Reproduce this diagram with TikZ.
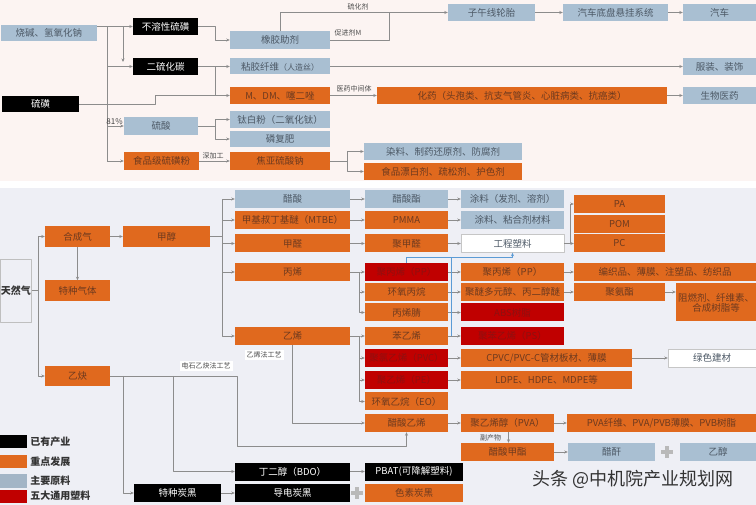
\documentclass[tikz,border=0pt]{standalone}
\usepackage{fontspec}
\setmainfont{Noto Sans CJK SC}
\usetikzlibrary{arrows.meta}
\definecolor{orgc}{HTML}{E0691E}
\definecolor{bluec}{HTML}{A9BFD2}
\definecolor{redc}{HTML}{C00000}
\definecolor{otxt}{HTML}{6E3A1E}
\definecolor{btxt}{HTML}{4D5966}
\definecolor{rtxt}{HTML}{8E1010}
\definecolor{linec}{HTML}{8C8C8C}
\definecolor{bluel}{HTML}{5B9BD5}
\definecolor{topbg}{HTML}{FCF4F2}
\definecolor{botbg}{HTML}{EEEFF5}
\begin{document}
\begin{tikzpicture}[x=1pt,y=-1pt,>={Stealth[length=3.5pt,width=3pt]},line join=round,
	box/.style={minimum height=17,inner sep=0pt,font=\fontsize{9.5}{10}\selectfont},
	obox/.style={box,fill=orgc,text=otxt},
	bbox/.style={box,fill=bluec,text=btxt},
	kbox/.style={box,fill=black,text=white},
	rbox/.style={box,fill=redc,text=rtxt},
	wbox/.style={box,fill=white,draw=gray!45,text=btxt},
	link/.style={draw=linec,line width=0.7pt},
	arr/.style={link,->},
	blink/.style={draw=bluel,line width=0.7pt},
	lbl/.style={font=\fontsize{7}{8}\selectfont,text=black!70,inner sep=1pt},
	wlbl/.style={lbl,fill=white,inner sep=2pt},
	legend/.style={anchor=west,font=\bfseries\fontsize{10}{11}\selectfont,text=black!80,inner sep=0pt},
	plus/.style={draw=gray!55,line width=3.5pt}]
	\useasboundingbox (0,0) rectangle (756,505);
	\fill[topbg] (0,0) rectangle (756,181);
	\fill[white] (0,181) rectangle (756,188);
	\fill[botbg] (0,188) rectangle (756,505);
	%% ---------- 硫磺 ----------
	\node[bbox,minimum width=96,minimum height=16] (soda) at (49,33) {烧碱、氢氧化钠};
	\node[kbox,minimum width=65] (insol) at (165.5,26.5) {不溶性硫磺};
	\node[kbox,minimum width=65] (cs2) at (165.5,66.5) {二硫化碳};
	\node[kbox,minimum width=77,minimum height=16] (sulfur) at (40.5,104) {硫磺};
	\node[bbox,minimum width=74,minimum height=18] (h2so4) at (161,126) {硫酸};
	\node[obox,minimum width=75,minimum height=18] (food) at (161.5,161) {食品级硫磺粉};
	\node[bbox,minimum width=100,minimum height=18] (rubber) at (280,40) {橡胶助剂};
	\node[bbox,minimum width=100,minimum height=16] (viscose) at (280,66.5) {粘胶纤维{\fontsize{8}{9}\selectfont（人造丝）}};
	\node[obox,minimum width=100] (mdm) at (280,95.5) {M、DM、噻二唑};
	\node[bbox,minimum width=100] (ti) at (280,119.5) {钛白粉（二氧化钛）};
	\node[bbox,minimum width=100,minimum height=16] (phos) at (280,139) {磷复肥};
	\node[obox,minimum width=100,minimum height=18] (smb) at (280,161) {焦亚硫酸钠};
	\node[bbox,minimum width=87] (tire) at (491.5,12.5) {子午线轮胎};
	\node[bbox,minimum width=105] (chassis) at (615.5,12.5) {汽车底盘悬挂系统};
	\node[bbox,minimum width=73] (car) at (719.5,12.5) {汽车};
	\node[bbox,minimum width=73] (cloth) at (719.5,66.5) {服装、装饰};
	\node[obox,minimum width=290] (drug) at (522,95.5) {化药（头孢类、抗支气管炎、心脏病类、抗癌类）};
	\node[bbox,minimum width=73] (bio) at (719.5,95.5) {生物医药};
	\node[bbox,minimum width=158] (dye) at (443,151.5) {染料、制药还原剂、防腐剂};
	\node[obox,minimum width=158] (bleach) at (443,171.5) {食品漂白剂、疏松剂、护色剂};
	\node[lbl] (vulc) at (358,6.5) {硫化剂};
	\node[lbl] (accm) at (348,33) {促进剂M};
	\node[lbl] (pharm) at (354,89) {医药中间体};
	\node[lbl] (deep) at (213,156) {深加工};
	\coordinate (sj) at (107,104);
	\draw[arr] (soda.east|-insol.west) -- (insol.west);
	\draw[arr] (123,26.5) -- (123,62);
	\draw[link] (sulfur.east) -- (sj);
	\draw[link] (sj|-insol.west) -- (sj|-food.west);
	\draw[arr] (sj|-cs2.west) -- (cs2.west);
	\draw[arr] (sj|-h2so4.west) -- (h2so4.west) node[pos=0.45,above,inner sep=1.5pt,font=\fontsize{8}{9}\selectfont,text=black!75]{81\%};
	\draw[arr] (sj|-food.west) -- (food.west);
	\draw[arr] (sulfur.east) -- ++(76,0) |- (mdm.west);
	\draw[arr] (insol.east) -- ++(17,0) |- (rubber.west);
	\draw[arr] (cs2.east) -- (viscose.west);
	\draw[link] ([xshift=17]cs2.east) -- ([xshift=17]cs2.east|-mdm.west);
	\draw[arr] (rubber.north) |- (tire.west);
	\draw[link] (rubber.east) -- ++(59,0) -- ++(0,-27.5);
	\draw[arr] (tire) -- (chassis);
	\draw[arr] (chassis) -- (car);
	\draw[arr] (viscose.east) -- (cloth.west);
	\draw[arr] (mdm) -- (drug);
	\draw[arr] (drug) -- (bio);
	\draw[arr] (h2so4.east) -- ++(17,0) |- (ti.west);
	\draw[arr] (h2so4.east) -- ++(17,0) |- (phos.west);
	\draw[arr] (food) -- (smb);
	\draw[arr] (smb.east) -- ++(17,0) |- (dye.west);
	\draw[arr] (smb.east) -- ++(17,0) |- (bleach.west);
	%% ---------- 天然气 ----------
	\node[draw=gray!50,minimum width=31,minimum height=63,inner sep=0pt,font=\bfseries\fontsize{10}{11}\selectfont,text=black!80] (ng) at (16,290.5) {天然气};
	\node[obox,minimum width=65,minimum height=21] (syngas) at (77.5,236.5) {合成气};
	\node[obox,minimum width=87,minimum height=21] (methanol) at (166.5,236.5) {甲醇};
	\node[obox,minimum width=65,minimum height=21] (sgas) at (77.5,291) {特种气体};
	\node[obox,minimum width=65,minimum height=20] (acet) at (77.5,376) {乙炔};
	\foreach \nm/\yy/\st/\tx in {acetic/199/bbox/醋酸, mtbe/220/obox/甲基叔丁基醚（MTBE）, hcho/243.5/obox/甲醛, propylene/272/obox/丙烯, ethylene/336/obox/乙烯}
		\node[\st,minimum width=115,minimum height=18] (\nm) at (292.5,\yy) {\tx};
	\foreach \nm/\yy/\st/\tx in {ester/199/bbox/醋酸酯, pmma/220/obox/PMMA, pom0/243.5/obox/聚甲醛, ppr/272/rbox/聚丙烯（PP）, po/292/obox/环氧丙烷, an/312.5/obox/丙烯腈, sty/336/obox/苯乙烯, pvc/358/rbox/聚氯乙烯（PVC）, pe/380/rbox/聚乙烯（PE）, eo/401.5/obox/环氧乙烷（EO）, vac/423/obox/醋酸乙烯}
		\node[\st,minimum width=83,minimum height=18] (\nm) at (406.5,\yy) {\tx};
	\foreach \nm/\yy/\st/\tx in {coat1/199/bbox/涂料（发剂、溶剂）, coat2/220/bbox/涂料、粘合剂材料, eplastic/243.5/wbox/工程塑料, ppo/272/obox/聚丙烯（PP）, ppg/292/obox/聚醚多元醇、丙二醇醚, abs/312.5/rbox/ABS树脂, ps/336/rbox/聚苯乙烯（PS）}
		\node[\st,minimum width=103,minimum height=18] (\nm) at (512.5,\yy) {\tx};
	\foreach \nm/\yy/\tx in {pa/204/PA, pomb/224/POM, pc/243.5/PC, pu/292/聚氨酯}
		\node[obox,minimum width=91,minimum height=18] (\nm) at (619.5,\yy) {\tx};
	\node[obox,minimum width=182,minimum height=18] (weave) at (665,272) {编织品、薄膜、注塑品、纺织品};
	\node[obox,minimum width=80,minimum height=38,align=center] (flame) at (716,302.5) {阻燃剂、纤维素、\\合成树脂等};
	\node[obox,minimum width=171,minimum height=18] (cpvc) at (546.5,358) {CPVC/PVC-C管材板材、薄膜};
	\node[obox,minimum width=171,minimum height=18] (ldpe) at (546.5,380) {LDPE、HDPE、MDPE等};
	\node[wbox,minimum width=88,minimum height=18] (green) at (712,358) {绿色建材};
	\node[obox,minimum width=93,minimum height=18] (pva) at (507.5,423) {聚乙烯醇（PVA）};
	\node[obox,minimum width=189,minimum height=18] (pvaf) at (661.5,423) {PVA纤维、PVA/PVB薄膜、PVB树脂};
	\node[obox,minimum width=93,minimum height=18] (vma) at (507.5,452) {醋酸甲酯};
	\node[bbox,minimum width=87,minimum height=18] (anh) at (611.5,452) {醋酐};
	\node[bbox,minimum width=76,minimum height=18] (etoh) at (718,452) {乙醇};
	\node[kbox,minimum width=115,minimum height=18] (bdo) at (292.5,471.5) {丁二醇（BDO）};
	\node[kbox,minimum width=98,minimum height=18] (pbat) at (414,471.5) {PBAT(可降解塑料)};
	\node[kbox,minimum width=87,minimum height=18] (cb) at (177.5,493) {特种炭黑};
	\node[kbox,minimum width=115,minimum height=18] (ccb) at (292.5,493) {导电炭黑};
	\node[obox,minimum width=98,minimum height=18] (pcb) at (414,493) {色素炭黑};
	\draw[plus] (661,452) -- (673,452) (667,446) -- (667,458);
	\draw[plus] (351,493) -- (363,493) (357,487) -- (357,499);
	% 连线
	\coordinate (nj) at (38,290.5);
	\coordinate (mj) at (222,236.5);
	\draw[link] (ng.east) -- (nj);
	\draw[arr] (nj) |- (syngas.west);
	\draw[arr] (nj) |- (acet.west);
	\draw[arr] (syngas) -- (methanol);
	\draw[arr] (syngas) -- (sgas);
	\draw[link] (methanol.east) -- (mj);
	\foreach \nm in {acetic,mtbe,hcho,propylene,ethylene}
		\draw[arr] (mj) |- (\nm.west);
	\foreach \nm in {ppr,po,an}
		\draw[arr] (propylene.east) -- ++(9,0) |- (\nm.west);
	\foreach \nm in {sty,pvc,pe,eo}
		\draw[arr] (ethylene.east) -- ++(9,0) |- (\nm.west);
	\foreach \a/\b in {acetic/ester, ester/coat1, mtbe/pmma, pmma/coat2, hcho/pom0, pom0/eplastic, ppr/ppo, ppo/weave, po/ppg, ppg/pu, an/abs, sty/ps, pvc/cpvc, cpvc/green, pe/ldpe, vac/pva, pva/pvaf, vma/anh, bdo/pbat, cb/ccb}
		\draw[arr] (\a) -- (\b);
	\draw[arr] (pu.east) -- (pu.east-|flame.west);
	\draw[arr] (eplastic.east) -- ++(6,0) |- (pa.west);
	\draw[arr] (eplastic.east) -- (pc.west);
	\draw[blink,->] (ppr.north) -- ++(0,-5) -| (eplastic.south);
	\draw[blink] ([xshift=3]sty.east) -- ([xshift=3,yshift=5]sty.east|-ppr.north);
	\draw[arr] ([xshift=1]pva.south) -- ([xshift=1]vma.north) node[midway,left=6pt,lbl]{副产物};
	\draw[arr] (ethylene.south) |- (vac.west);
	\node[wlbl] (ethy) at (264,355) {乙烯法工艺};
	\draw[arr] (acet.east) -| (237,446) -| (vac.south);
	\node[wlbl] (carb) at (206,366) {电石乙炔法工艺};
	\draw[arr] ([xshift=63]acet.east) |- (bdo.west);
	\draw[arr] ([xshift=13]acet.east) |- (cb.west);
	%% 图例
	\node[kbox,minimum width=27,minimum height=13] (lg1) at (13.5,441.5) {};
	\node[obox,minimum width=27,minimum height=13] (lg2) at (13.5,461.5) {};
	\node[bbox,fill=bluec!85!gray,minimum width=27,minimum height=14] (lg3) at (13.5,480.5) {};
	\node[rbox,minimum width=27,minimum height=13] (lg4) at (13.5,496) {};
	\node[legend] at ([xshift=3]lg1.east) {已有产业};
	\node[legend] at ([xshift=3]lg2.east) {重点发展};
	\node[legend] at ([xshift=3]lg3.east) {主要原料};
	\node[legend] at ([xshift=3]lg4.east) {五大通用塑料};
	\node[font=\fontsize{18}{20}\selectfont,text=black!80] (wm) at (633,479) {头条 @中机院产业规划网};
\end{tikzpicture}
\end{document}
